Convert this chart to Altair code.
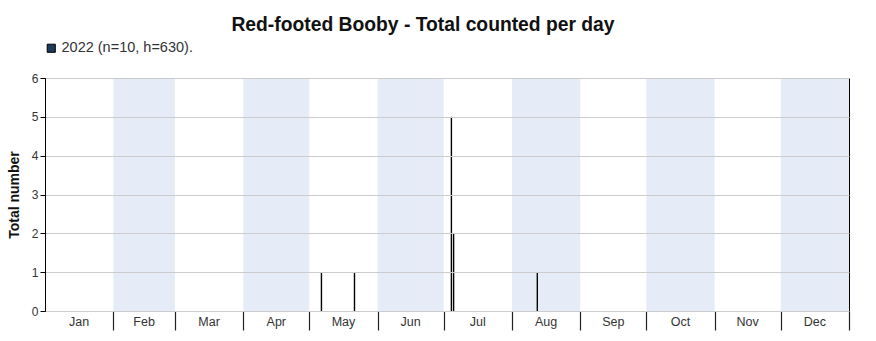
import altair as alt
import pandas as pd

# ---- data ----
obs_dates = ["2022-05-06", "2022-05-21", "2022-07-04", "2022-07-05", "2022-08-12"]
obs_counts = [1, 1, 5, 2, 1]
series_label = "2022 (n=10, h=630)."

month_names = ["Jan", "Feb", "Mar", "Apr", "May", "Jun",
               "Jul", "Aug", "Sep", "Oct", "Nov", "Dec"]
month_days = [31, 28, 31, 30, 31, 30, 31, 31, 30, 31, 30, 31]
y_ticks = [0, 1, 2, 3, 4, 5, 6]

# ---- tables ----
starts = [sum(month_days[:i]) for i in range(12)]
ends = [s + d for s, d in zip(starts, month_days)]
months = pd.DataFrame({
    "month": month_names,
    "start": starts,
    "end": ends,
    "mid": [(s + e) / 2 for s, e in zip(starts, ends)],
    "shaded": [i % 2 == 1 for i in range(12)],
})
obs = pd.DataFrame({
    "day": [pd.Timestamp(d).dayofyear - 0.5 for d in obs_dates],
    "count": obs_counts,
    "series": [series_label] * len(obs_dates),
})

W, H = 804, 233
xscale = alt.Scale(domain=[0, 365], nice=False, zero=False)
yscale = alt.Scale(domain=[0, 6], nice=False)

bands = alt.Chart(months).transform_filter("datum.shaded").mark_rect(
    color="#e6ecf7"
).encode(
    x=alt.X("start:Q", scale=xscale,
            axis=alt.Axis(values=ends, labels=False, tickSize=19, tickColor="#222",
                          domainColor="#000", grid=False, title=None, tickWidth=1.2)),
    x2="end:Q",
    y=alt.value(0),
    y2=alt.value(H),
)

bars = alt.Chart(obs).mark_rule(strokeWidth=1.4).encode(
    x=alt.X("day:Q", scale=xscale),
    y=alt.Y("count:Q", scale=yscale,
            axis=alt.Axis(values=y_ticks, title="Total number", titleFontSize=14,
                          titleFontWeight="bold", titleColor="#111", titlePadding=10,
                          labelFontSize=12, labelColor="#333", tickSize=5,
                          tickColor="#000", domainColor="#000", gridColor="#cccccc",
                          zindex=1)),
    y2=alt.datum(0),
    color=alt.Color("series:N",
                    scale=alt.Scale(domain=[series_label], range=["#000000"]),
                    legend=alt.Legend(title=None, orient="none", legendX=-1, legendY=-37,
                                      symbolType="square", symbolSize=66,
                                      symbolFillColor="#1b3a5e", symbolStrokeColor="#222",
                                      symbolStrokeWidth=1, labelFontSize=14.5,
                                      labelColor="#333", padding=0, labelOffset=3)),
)

labels = alt.Chart(months).mark_text(fontSize=12.5, color="#333", baseline="middle").encode(
    x=alt.X("mid:Q", scale=xscale),
    y=alt.value(H + 11),
    text="month:N",
)

chart = alt.layer(bands, bars, labels).properties(
    width=W, height=H,
    autosize=alt.AutoSizeParams(type="none"),
    padding={"left": 45, "top": 78, "right": 27, "bottom": 30},
    title=alt.Title("Red-footed Booby - Total counted per day", fontSize=19.3,
                    fontWeight="bold", color="#111", anchor="middle", dx=-24, offset=6),
).configure(
    font="Liberation Sans",
).configure_view(
    stroke="#000", strokeWidth=1,
)

chart.save("out.html", embed_options={"renderer": "svg", "actions": False})
